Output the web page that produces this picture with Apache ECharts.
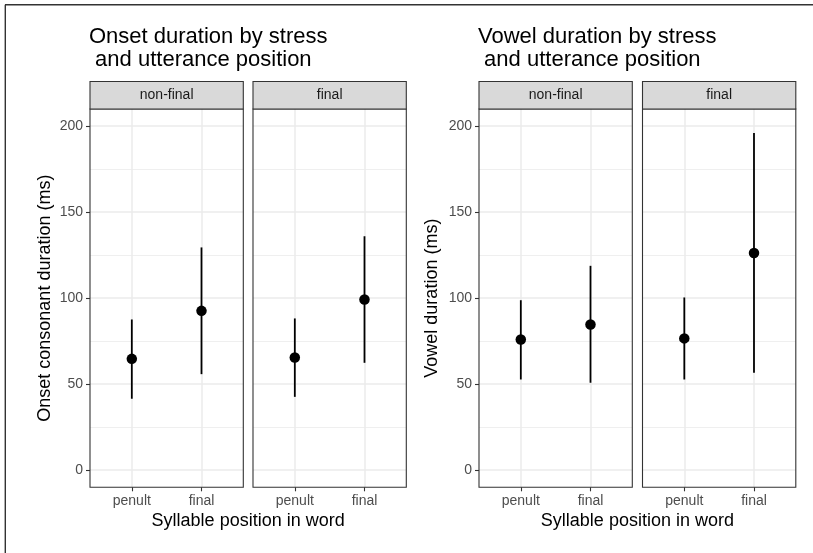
<!DOCTYPE html>
<html>
<head>
<meta charset="utf-8">
<script src="https://cdn.jsdelivr.net/npm/echarts@6/dist/echarts.min.js"></script>
<style>
  html, body { margin: 0; padding: 0; background: #fff; }
  #chart { width: 813px; height: 553px; }
</style>
</head>
<body>
<div id="chart"></div>
<script>
// Syllable position in the word (x categories) and utterance position (facets)
const syllablePositions = ['penult', 'final'];
const utterancePositions = ['non-final', 'final'];
const yMajorTicks = [0, 50, 100, 150, 200];
const yMinorTicks = [25, 75, 125, 175];

// Onset consonant duration (ms): mean and interval ends, per facet
const onsetMeanNonFinal = [64.7, 92.6];
const onsetLowNonFinal = [41.5, 55.8];
const onsetHighNonFinal = [87.6, 129.5];
const onsetMeanFinal = [65.5, 99.2];
const onsetLowFinal = [42.6, 62.4];
const onsetHighFinal = [88.2, 136.0];

// Vowel duration (ms): mean and interval ends, per facet
const vowelMeanNonFinal = [76.0, 84.7];
const vowelLowNonFinal = [52.7, 50.8];
const vowelHighNonFinal = [98.8, 118.8];
const vowelMeanFinal = [76.6, 126.3];
const vowelLowFinal = [52.7, 56.6];
const vowelHighFinal = [100.4, 196.1];

const FONT = '"Liberation Sans", Arial, Helvetica, sans-serif';

// Panel layout (pixels)
const panelLefts = [90, 253, 479, 642.5];
const panelWidth = 153.3;
const panelTop = 109;
const panelHeight = 378.3;
const stripHeight = 27.5;

const panels = [
  { strip: utterancePositions[0], mean: onsetMeanNonFinal, low: onsetLowNonFinal, high: onsetHighNonFinal, first: true },
  { strip: utterancePositions[1], mean: onsetMeanFinal, low: onsetLowFinal, high: onsetHighFinal, first: false },
  { strip: utterancePositions[0], mean: vowelMeanNonFinal, low: vowelLowNonFinal, high: vowelHighNonFinal, first: true },
  { strip: utterancePositions[1], mean: vowelMeanFinal, low: vowelLowFinal, high: vowelHighFinal, first: false }
];

const grids = [], xAxes = [], yAxes = [], series = [], graphics = [];

panels.forEach((p, i) => {
  const left = panelLefts[i];
  grids.push({ left: left, top: panelTop, width: panelWidth, height: panelHeight, containLabel: false, show: false });

  xAxes.push({
    type: 'value', gridIndex: i, min: 0.4, max: 2.6, position: 'bottom',
    axisLine: { show: false, onZero: false },
    axisTick: { show: true, customValues: [1, 2], length: 4, lineStyle: { color: '#333', width: 1.1 } },
    axisLabel: {
      show: true, customValues: [1, 2], margin: 7,
      color: '#4d4d4d', fontSize: 14, fontFamily: FONT,
      formatter: v => syllablePositions[Math.round(v) - 1]
    },
    splitLine: { show: true, lineStyle: { color: '#ebebeb', width: 1.5 } }
  });

  // major axis
  yAxes.push({
    type: 'value', gridIndex: i, min: -10, max: 210, position: 'left',
    axisLine: { show: false, onZero: false },
    axisTick: { show: p.first, customValues: yMajorTicks, length: 4, lineStyle: { color: '#333', width: 1.1 } },
    axisLabel: { show: p.first, customValues: yMajorTicks, margin: 7, color: '#4d4d4d', fontSize: 14, fontFamily: FONT },
    splitLine: { show: true, lineStyle: { color: '#ebebeb', width: 1.5 } }
  });
  // minor grid lines
  yAxes.push({
    type: 'value', gridIndex: i, min: -10, max: 210, position: 'right',
    axisLine: { show: false, onZero: false },
    axisTick: { show: false, customValues: yMinorTicks },
    axisLabel: { show: false, customValues: yMinorTicks },
    splitLine: { show: true, lineStyle: { color: '#ebebeb', width: 0.8 } }
  });

  series.push({
    type: 'custom', xAxisIndex: i, yAxisIndex: i * 2,
    data: syllablePositions.map((_, k) => [k + 1, p.low[k], p.high[k]]),
    encode: { x: 0, y: [1, 2] },
    renderItem: (params, api) => {
      const x = api.value(0);
      const a = api.coord([x, api.value(1)]);
      const b = api.coord([x, api.value(2)]);
      return { type: 'line', shape: { x1: a[0], y1: a[1], x2: b[0], y2: b[1] }, style: { stroke: '#000', lineWidth: 1.8 } };
    },
    z: 3, silent: true
  });
  series.push({
    type: 'scatter', xAxisIndex: i, yAxisIndex: i * 2,
    data: syllablePositions.map((_, k) => [k + 1, p.mean[k]]),
    symbol: 'circle', symbolSize: 10.5,
    itemStyle: { color: '#000', opacity: 1 },
    z: 4, silent: true
  });

  // panel border
  graphics.push({
    type: 'rect', z: 100, silent: true,
    shape: { x: left, y: panelTop, width: panelWidth, height: panelHeight },
    style: { fill: 'none', stroke: '#333', lineWidth: 1.1 }
  });
  // facet strip
  graphics.push({
    type: 'rect', z: 100, silent: true,
    shape: { x: left, y: panelTop - stripHeight, width: panelWidth, height: stripHeight },
    style: { fill: '#d9d9d9', stroke: '#333', lineWidth: 1.1 }
  });
  graphics.push({
    type: 'text', z: 101, silent: true,
    x: left + panelWidth / 2, y: panelTop - stripHeight / 2,
    style: { text: p.strip, fill: '#1a1a1a', font: '14px ' + FONT, textAlign: 'center', textVerticalAlign: 'middle' }
  });
});

// x axis titles, centred under each pair of panels
[[panelLefts[0], panelLefts[1] + panelWidth], [panelLefts[2], panelLefts[3] + panelWidth]].forEach(([a, b]) => {
  graphics.push({
    type: 'text', z: 101, silent: true,
    x: (a + b) / 2, y: 521,
    style: { text: 'Syllable position in word', fill: '#000', font: '18px ' + FONT, textAlign: 'center', textVerticalAlign: 'middle' }
  });
});

// y axis titles
[[45, 'Onset consonant duration (ms)'], [432, 'Vowel duration (ms)']].forEach(([x, t]) => {
  graphics.push({
    type: 'text', z: 101, silent: true,
    x: x, y: panelTop + panelHeight / 2, rotation: Math.PI / 2,
    style: { text: t, fill: '#000', font: '18px ' + FONT, textAlign: 'center', textVerticalAlign: 'middle' }
  });
});

// outer frame (top and left edges)
graphics.push({ type: 'line', z: 102, silent: true, shape: { x1: 5, y1: 4.8, x2: 813, y2: 4.8 }, style: { stroke: '#333', lineWidth: 1.4 } });
graphics.push({ type: 'line', z: 102, silent: true, shape: { x1: 5.3, y1: 4.8, x2: 5.3, y2: 553 }, style: { stroke: '#333', lineWidth: 1.4 } });

const titleStyle = { color: '#000', fontSize: 22, fontWeight: 'normal', fontFamily: FONT, lineHeight: 23.5 };

const chart = echarts.init(document.getElementById('chart'), null, { renderer: 'canvas' });
chart.setOption({
  animation: false,
  backgroundColor: '#fff',
  title: [
    { text: 'Onset duration by stress\n and utterance position', left: 89, top: 25, padding: 0, textStyle: titleStyle },
    { text: 'Vowel duration by stress\n and utterance position', left: 478, top: 25, padding: 0, textStyle: titleStyle }
  ],
  grid: grids,
  xAxis: xAxes,
  yAxis: yAxes,
  series: series,
  graphic: graphics
});
</script>
</body>
</html>
